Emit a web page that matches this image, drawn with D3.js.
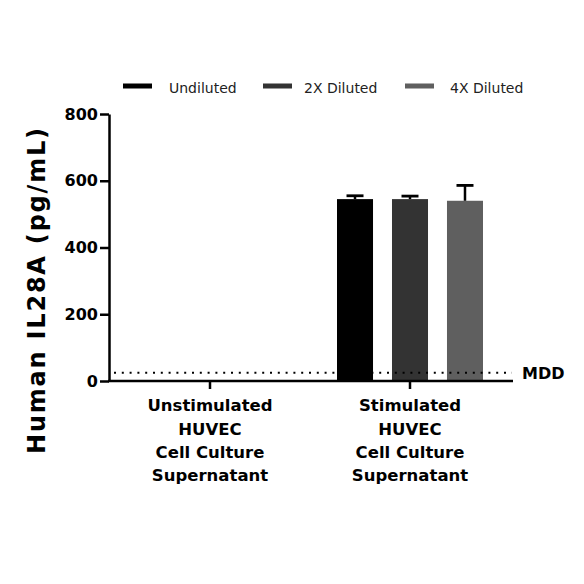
<!DOCTYPE html>
<html><head><meta charset="utf-8">
<script src="https://cdn.jsdelivr.net/npm/d3@7"></script>
<style>body{margin:0;background:#fff}svg{display:block}text{font-family:"DejaVu Sans",sans-serif}</style>
</head><body><svg id="c" width="584" height="584"></svg>
<script>
const categories = [["Unstimulated","HUVEC","Cell Culture","Supernatant"],["Stimulated","HUVEC","Cell Culture","Supernatant"]];
const categoryKeys = ["Unstimulated","Stimulated"];
const seriesNames = ["Undiluted","2X Diluted","4X Diluted"];
const seriesColors = ["#000000","#333333","#5f5f5f"];
const unstimulatedValues = [null, null, null];
const stimulatedValues = [545, 545, 540];
const stimulatedErrors = [10, 9, 46];
const yTicks = [0, 200, 400, 600, 800];
const mdd = 25;

const svg = d3.select("#c");
const x = d3.scaleBand().domain(categoryKeys).range([110, 510]);
const y = d3.scaleLinear().domain([0, 800]).range([381, 114]);
const values = {Unstimulated: unstimulatedValues, Stimulated: stimulatedValues};
const errors = {Unstimulated: [0,0,0], Stimulated: stimulatedErrors};
const xs = d3.scaleBand().domain(seriesNames).range([-73, 73]).paddingInner(0.345).paddingOuter(0);

// bars
categoryKeys.forEach(c => {
  seriesNames.forEach((s, i) => {
    const v = values[c][i];
    if (v == null) return;
    const cx = x(c) + x.bandwidth()/2 + xs(s);
    svg.append("rect").attr("x", cx).attr("width", xs.bandwidth())
      .attr("y", y(v)).attr("height", y(0) - y(v)).attr("fill", seriesColors[i]);
    const mx = cx + xs.bandwidth()/2;
    const top = y(v + errors[c][i]);
    svg.append("line").attr("x1", mx).attr("x2", mx).attr("y1", y(v)).attr("y2", top).attr("stroke", "#000").attr("stroke-width", 2.5);
    svg.append("line").attr("x1", mx - 8.5).attr("x2", mx + 8.5).attr("y1", top).attr("y2", top).attr("stroke", "#000").attr("stroke-width", 2.8);
  });
});

// MDD line
svg.append("line").attr("x1", 114).attr("x2", 512).attr("y1", y(mdd)).attr("y2", y(mdd))
  .attr("stroke", "#000").attr("stroke-width", 2).attr("stroke-dasharray", "2,5.8");
svg.append("text").attr("x", 522).attr("y", 379).attr("font-size", 16).attr("font-weight", "bold").text("MDD");

// y axis
const ya = svg.append("g").attr("transform", "translate(109,0)")
  .call(d3.axisLeft(y).tickValues(yTicks).tickSize(9).tickPadding(2).tickSizeOuter(0));
ya.select(".domain").attr("stroke-width", 2.5);
ya.selectAll(".tick line").attr("stroke-width", 2.5);
ya.selectAll(".tick text").attr("font-size", 16).attr("font-weight", "bold").attr("fill", "#000").attr("font-family", '"DejaVu Sans",sans-serif');

// x axis
const xa = svg.append("g").attr("transform", "translate(0,381)")
  .call(d3.axisBottom(x).tickSize(8).tickSizeOuter(0).tickFormat(""));
xa.select(".domain").attr("stroke-width", 2.5).attr("d", "M108,0H513");
xa.selectAll(".tick line").attr("stroke-width", 2.5);

const lineY = [411, 435, 458, 481];
categories.forEach((lines, ci) => {
  const t = svg.append("text").attr("text-anchor", "middle").attr("font-size", 16.5).attr("font-weight", "bold");
  lines.forEach((l, li) => {
    t.append("tspan").attr("x", x(categoryKeys[ci]) + x.bandwidth()/2).attr("y", lineY[li]).text(l);
  });
});

// y title
svg.append("text").attr("transform", "translate(45,291) rotate(-90)").attr("text-anchor", "middle")
  .attr("font-size", 24).attr("font-weight", "bold")
  .attr("textLength", 326).attr("lengthAdjust", "spacing").text("Human IL28A (pg/mL)");

// legend
const legX = [123, 263, 405];
const legTX = [169, 304, 450];
seriesNames.forEach((s, i) => {
  svg.append("rect").attr("x", legX[i]).attr("y", 83.5).attr("width", 29).attr("height", 5).attr("fill", seriesColors[i]);
  svg.append("text").attr("x", legTX[i]).attr("y", 92.5).attr("font-size", 14).attr("fill", "#222").text(s);
});
</script></body></html>
